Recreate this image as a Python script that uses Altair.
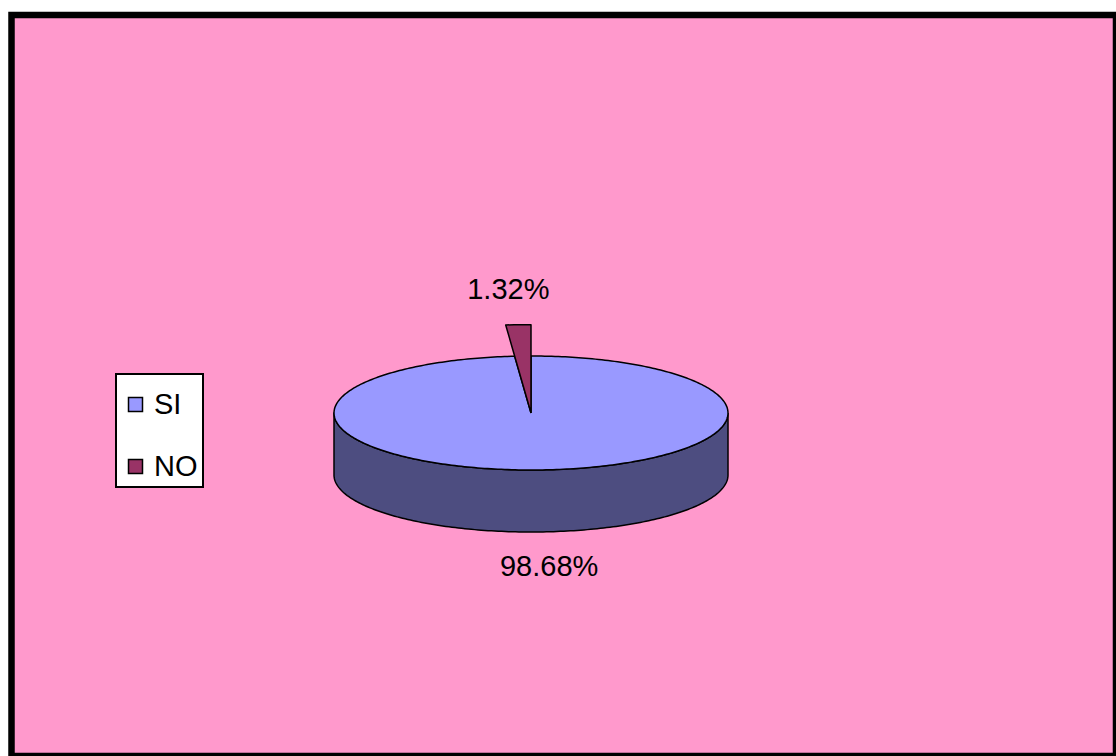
import numpy as np
import pandas as pd
import altair as alt

# ---------------- data ----------------
categories = ["SI", "NO"]
values = [98.68, 1.32]
label_texts = ["98.68%", "1.32%"]

# ---------------- styles / layout (image pixel units) ----------------
top_colors = ["#9999FF", "#993366"]
side_colors = ["#4D4D80", "#4D1A33"]
BG = "#FF99CC"

CX, CY = 531.0, 413.0      # centre of the top face ellipse
RX, RY = 197.0, 57.0       # ellipse radii of the top face
DEPTH = 62.0               # thickness of the 3D pie
RADIUS_K = [1.0, 1.55]     # radius factor of each slice (NO slice is pulled out)
LABEL_GAP_Y = 35.0
LABEL_GAP_X = 10.0

X0, X1 = 11.5, 1116.0
Y0, Y1 = 15.0, 756.0
W, H = X1 - X0, Y1 - Y0

total = float(sum(values))
sweeps = [v / total * 360.0 for v in values]
ends = list(np.cumsum(sweeps))
starts = [e - s for e, s in zip(ends, sweeps)]


def pt(theta_deg, k=1.0, dz=0.0):
    t = np.radians(theta_deg)
    return CX + RX * k * np.sin(t), CY - RY * k * np.cos(t) + dz


top_rows, side_rows, label_rows = [], [], []
for cat, lab, a0, a1, k in zip(categories, label_texts, starts, ends, RADIUS_K):
    n = max(int((a1 - a0) / 1.0), 4)
    angs = np.linspace(a0, a1, n)
    pts = [(CX, CY)] + [pt(a, k) for a in angs] + [(CX, CY)]
    for i, (x, y) in enumerate(pts):
        top_rows.append({"category": cat, "i": i, "x": x, "y": y})
    lo, hi = max(a0, 90.0), min(a1, 270.0)
    if hi > lo:
        m = max(int(hi - lo), 4)
        sa = np.linspace(lo, hi, m)
        spts = [pt(a, k) for a in sa] + [pt(a, k, DEPTH) for a in sa[::-1]]
        spts.append(spts[0])
        for i, (x, y) in enumerate(spts):
            side_rows.append({"category": cat, "i": i, "x": x, "y": y})
    mid = (a0 + a1) / 2.0
    front = np.cos(np.radians(mid)) < 0
    ex, ey = pt(mid, k, DEPTH if front else 0.0)
    ly = ey + LABEL_GAP_Y if front else ey - LABEL_GAP_Y
    lx = ex + np.sign(np.sin(np.radians(mid))) * LABEL_GAP_X
    label_rows.append({"category": cat, "label": lab, "x": lx, "y": ly})

top_df = pd.DataFrame(top_rows)
side_df = pd.DataFrame(side_rows)
label_df = pd.DataFrame(label_rows)

xs = alt.Scale(domain=[X0, X1], nice=False, zero=False)
ys = alt.Scale(domain=[Y0, Y1], nice=False, zero=False, reverse=True)

fill_scale = alt.Scale(domain=categories, range=top_colors)
side_scale = alt.Scale(domain=categories, range=side_colors)

legend = alt.Legend(
    title=" ", titleFontSize=1, titlePadding=10,
    orient="none", legendX=116 - X0, legendY=374 - Y0,
    fillColor="white", strokeColor="black", padding=5, cornerRadius=0,
    symbolType="square", symbolSize=196, symbolStrokeColor="black",
    symbolStrokeWidth=1.5, symbolOpacity=1,
    labelFontSize=29, labelFont="Liberation Sans", labelColor="black",
    rowPadding=32, labelOffset=4,
)

side = alt.Chart(side_df).mark_line(stroke="black", strokeWidth=1.5, strokeJoin="round").encode(
    x=alt.X("x:Q", scale=xs, axis=None),
    y=alt.Y("y:Q", scale=ys, axis=None),
    order=alt.Order("i:Q"),
    detail="category:N",
    fill=alt.Fill("category:N", scale=side_scale, legend=None),
)

def top_layer(cat):
    return alt.Chart(top_df[top_df["category"] == cat]).mark_line(
        stroke="black", strokeWidth=1.5, strokeJoin="round"
    ).encode(
        x=alt.X("x:Q", scale=xs, axis=None),
        y=alt.Y("y:Q", scale=ys, axis=None),
        order=alt.Order("i:Q"),
        detail="category:N",
        color=alt.Color("category:N", scale=fill_scale, legend=legend),
        stroke=alt.value("black"),
        fill=alt.Fill("category:N", scale=fill_scale, legend=legend),
    )

labels = alt.Chart(label_df).mark_text(
    font="Liberation Sans", fontSize=29, color="black", align="center", baseline="middle"
).encode(
    x=alt.X("x:Q", scale=xs, axis=None),
    y=alt.Y("y:Q", scale=ys, axis=None),
    text="label:N",
)

chart = alt.layer(side, top_layer("SI"), top_layer("NO"), labels).resolve_scale(
    fill="independent"
).properties(
    width=W, height=H,
    autosize=alt.AutoSizeParams(type="none"),
    padding={"left": X0, "top": Y0, "right": 0, "bottom": 0},
    background="white",
).configure_view(
    fill=BG, stroke="black", strokeWidth=6.5
).configure_legend(strokeWidth=2)

chart.save("out.html", embed_options={"renderer": "svg", "actions": False})
